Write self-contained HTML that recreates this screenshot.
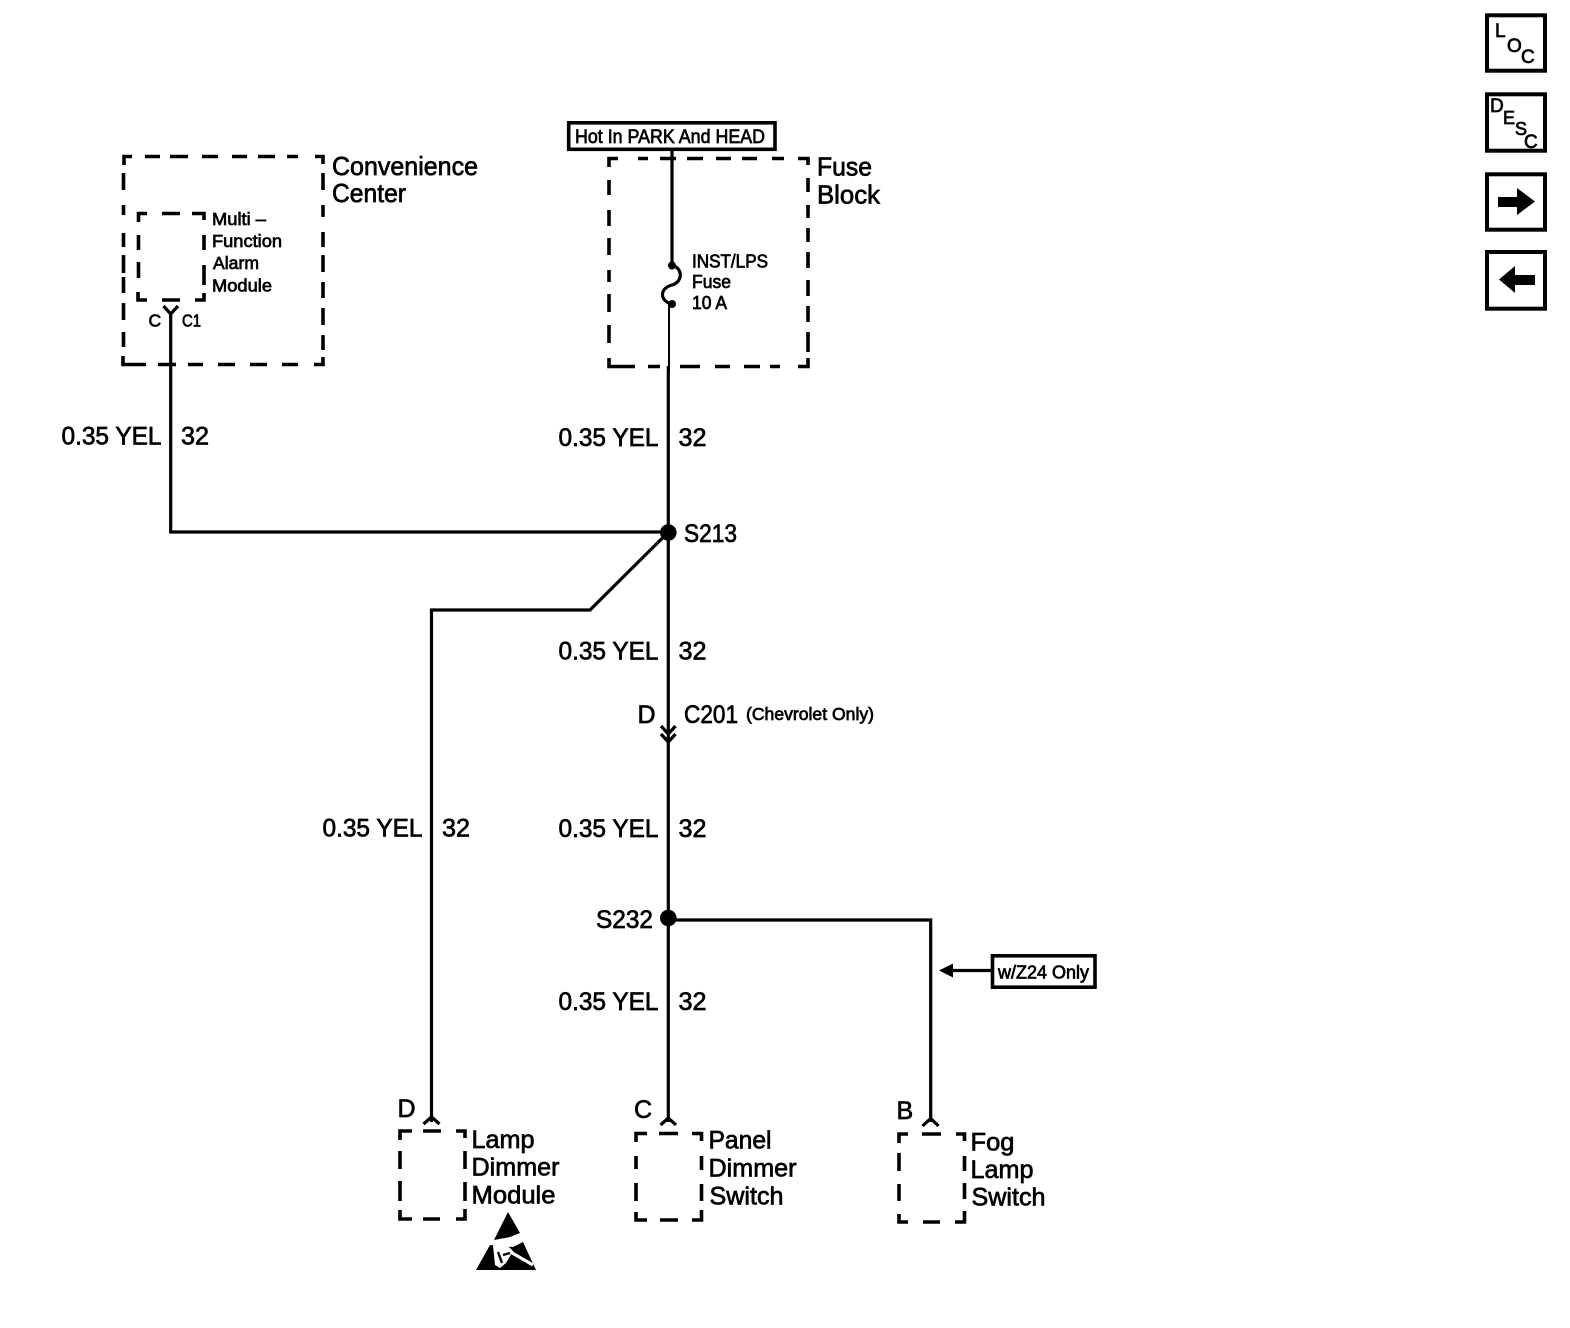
<!DOCTYPE html>
<html><head><meta charset="utf-8"><style>
html,body{margin:0;padding:0;background:#fff}
svg{display:block}
text{font-family:"Liberation Sans",sans-serif;fill:#000;stroke:#000;stroke-width:.7px}
.d{fill:none;stroke:#000;stroke-width:3.6}
.w{fill:none;stroke:#000;stroke-width:3.2}
.b{fill:none;stroke:#000;stroke-width:3.6}
</style></head><body>
<svg width="1570" height="1328" viewBox="0 0 1570 1328" xmlns="http://www.w3.org/2000/svg">
<!-- Convenience Center box -->
<path class="d" d="M124 165V156.500H132M145 156.500H160M170 156.500H188M202 156.500H218M232 156.500H247M258 156.500H275M287 156.500H298M315 156.500H323V164M323 173V190M323 205V217M323 232V247M323 255V272M323 282V298M323 308V325M323 335V350M323 357V364.500H314M298 364.500H282M267 364.500H250M235 364.500H218M203 364.500H188M176 364.500H158M146 364.500H132H123V356M123.500 347V332M123.500 320V303M123.500 293V277M123.500 273V255M123.500 247V233M123.500 215V205M123.500 190V173"/>
<!-- Inner module box -->
<path class="d" d="M138.500 222V213.500H147M162 213.500H180M192 213.500H204V220M204 235V250M204 265V285M204 293V300H195M180 300H162M147 300H138V292M138.500 278V262M138.500 250V235"/>
<text x="332" y="175" font-size="26" textLength="146" lengthAdjust="spacingAndGlyphs">Convenience</text>
<text x="332" y="202" font-size="26" textLength="74" lengthAdjust="spacingAndGlyphs">Center</text>
<text x="212" y="225" font-size="17.5" textLength="54" lengthAdjust="spacingAndGlyphs">Multi –</text>
<text x="212" y="247" font-size="17.5" textLength="70" lengthAdjust="spacingAndGlyphs">Function</text>
<text x="213" y="269" font-size="17.5" textLength="46" lengthAdjust="spacingAndGlyphs">Alarm</text>
<text x="212" y="291.500" font-size="17.5" textLength="60" lengthAdjust="spacingAndGlyphs">Module</text>
<text x="148.500" y="326.500" font-size="17.5">C</text>
<text x="182" y="326.500" font-size="17.5" textLength="19" lengthAdjust="spacingAndGlyphs">C1</text>
<path class="w" d="M163.500 306L170.700 314L178 306M170.700 314V532H668"/>
<text x="61.500" y="444.500" font-size="25" textLength="100" lengthAdjust="spacingAndGlyphs">0.35 YEL</text>
<text x="181" y="444.500" font-size="25" textLength="28" lengthAdjust="spacingAndGlyphs">32</text>

<!-- Hot in box -->
<rect x="568.700" y="122.800" width="206.300" height="26.500" class="b"/>
<text x="575" y="143" font-size="19.500" textLength="190" lengthAdjust="spacingAndGlyphs">Hot In PARK And HEAD</text>
<!-- Fuse block -->
<path class="d" d="M609 167V158.500H618M638 158.500H648M660 158.500H676M687 158.500H703M716 158.500H731M742 158.500H757M772 158.500H784M798 158.500H808V165M808 178V192M808 205V218M808 228V242M808 252V268M808 280V296M808 306V322M808 332V352M808 358V366.500H798M780 366.500H770M760 366.500H744M730 366.500H715M700 366.500H680M660 366.500H648M635 366.500H615H609V358M609 343V325M609 312V294M609 282V270M609 255V238M609 226V210M609 195V180"/>
<path class="w" d="M672 150V265"/>
<path class="w" d="M672 265C683 268 683 282 672 285C660 288 659 300 671 304"/>
<circle cx="672" cy="265.500" r="4"/>
<circle cx="672" cy="304" r="4"/>
<path fill="none" stroke="#000" stroke-width="2" d="M669 303V372"/>
<text x="692" y="267.500" font-size="18" textLength="76" lengthAdjust="spacingAndGlyphs">INST/LPS</text>
<text x="692" y="288" font-size="18" textLength="39" lengthAdjust="spacingAndGlyphs">Fuse</text>
<text x="692" y="309" font-size="18" textLength="35" lengthAdjust="spacingAndGlyphs">10 A</text>
<text x="817" y="175.500" font-size="26" textLength="55" lengthAdjust="spacingAndGlyphs">Fuse</text>
<text x="817" y="203.500" font-size="26" textLength="63" lengthAdjust="spacingAndGlyphs">Block</text>

<!-- Main vertical -->
<path class="w" d="M668.300 366V740M661 726L668.300 734L675.500 726M661 734L668.300 742L675.500 734M668.300 742V1122"/>
<text x="558.500" y="446" font-size="25" textLength="100" lengthAdjust="spacingAndGlyphs">0.35 YEL</text>
<text x="678.500" y="446" font-size="25" textLength="28" lengthAdjust="spacingAndGlyphs">32</text>
<circle cx="668.300" cy="532.500" r="8.300"/>
<text x="684" y="542" font-size="25" textLength="53" lengthAdjust="spacingAndGlyphs">S213</text>
<path class="w" d="M668 532.500L590 610H431.500V1122"/>
<text x="558.500" y="659.500" font-size="25" textLength="100" lengthAdjust="spacingAndGlyphs">0.35 YEL</text>
<text x="678.500" y="659.500" font-size="25" textLength="28" lengthAdjust="spacingAndGlyphs">32</text>
<text x="637.500" y="723" font-size="25">D</text>
<text x="684" y="723" font-size="25" textLength="54" lengthAdjust="spacingAndGlyphs">C201</text>
<text x="746" y="720" font-size="17.500" textLength="128" lengthAdjust="spacingAndGlyphs">(Chevrolet Only)</text>
<text x="558.500" y="837" font-size="25" textLength="100" lengthAdjust="spacingAndGlyphs">0.35 YEL</text>
<text x="678.500" y="837" font-size="25" textLength="28" lengthAdjust="spacingAndGlyphs">32</text>
<text x="322.500" y="836.500" font-size="25" textLength="100" lengthAdjust="spacingAndGlyphs">0.35 YEL</text>
<text x="442" y="836.500" font-size="25" textLength="28" lengthAdjust="spacingAndGlyphs">32</text>
<circle cx="668.300" cy="918" r="8.300"/>
<text x="596" y="928" font-size="25" textLength="57" lengthAdjust="spacingAndGlyphs">S232</text>
<path class="w" d="M668 920H930.700V1122"/>
<text x="558.500" y="1010" font-size="25" textLength="100" lengthAdjust="spacingAndGlyphs">0.35 YEL</text>
<text x="678.500" y="1010" font-size="25" textLength="28" lengthAdjust="spacingAndGlyphs">32</text>
<!-- w/Z24 -->
<path d="M939 970.500L953 963.500V977.500Z"/>
<path class="w" d="M950 970.500H993"/>
<rect x="992.500" y="955.800" width="102.500" height="31.400" class="b"/>
<text x="998" y="978.500" font-size="18" textLength="91" lengthAdjust="spacingAndGlyphs">w/Z24 Only</text>

<!-- Connectors at bottom -->
<path class="w" d="M423.500 1124L431.500 1117L439.500 1124M660.500 1125L668.300 1118L676 1125M922.500 1126L930.700 1118.500L938.500 1126"/>
<!-- Lamp Dimmer box -->
<path class="d" d="M400 1140V1131H412M423 1131H441M456 1131H465V1138M465 1151V1169M465 1182V1201M465 1209V1219H456M440 1219H423M412 1219H400V1210M400 1201V1181M400 1169V1151"/>
<text x="397.500" y="1117" font-size="25">D</text>
<text x="471.500" y="1148" font-size="25" textLength="63" lengthAdjust="spacingAndGlyphs">Lamp</text>
<text x="471.500" y="1175.500" font-size="25" textLength="88" lengthAdjust="spacingAndGlyphs">Dimmer</text>
<text x="471.500" y="1203.500" font-size="25" textLength="84" lengthAdjust="spacingAndGlyphs">Module</text>
<!-- ESD symbol -->
<path d="M508 1212L520 1233L510 1237L494 1240ZM490 1245L476 1270H536L523 1242L513 1247Z"/>
<path fill="#fff" d="M493 1245L505 1243L513 1251L506 1263L500 1268L495 1265Z"/>
<path fill="none" stroke="#fff" stroke-width="3.200" d="M507 1250L533 1265"/>
<path fill="none" stroke="#000" stroke-width="2.400" d="M498 1252L502 1263M503 1255L510 1253"/>
<!-- Panel Dimmer box -->
<path class="d" d="M636 1142V1133.500H647M659 1133.500H678M692 1133.500H701.500V1141M701.500 1156V1170M701.500 1184V1201M701.500 1210V1220H692M678 1220H660M647 1220H636V1212M636 1201V1183M636 1169V1156"/>
<text x="634" y="1118" font-size="25">C</text>
<text x="708.500" y="1148.500" font-size="25" textLength="63" lengthAdjust="spacingAndGlyphs">Panel</text>
<text x="708.500" y="1176.500" font-size="25" textLength="88" lengthAdjust="spacingAndGlyphs">Dimmer</text>
<text x="709.500" y="1204.500" font-size="25" textLength="74" lengthAdjust="spacingAndGlyphs">Switch</text>
<!-- Fog Lamp box -->
<path class="d" d="M899 1143V1134H908M922 1134H941M956 1134H964.500V1141M964.500 1156V1171M964.500 1183V1199M964.500 1211V1222H955M940 1222H923M908 1222H899V1214M899 1201V1184M899 1171V1153"/>
<text x="896.500" y="1119" font-size="25">B</text>
<text x="970.500" y="1150.500" font-size="25" textLength="44" lengthAdjust="spacingAndGlyphs">Fog</text>
<text x="970.500" y="1178" font-size="25" textLength="63" lengthAdjust="spacingAndGlyphs">Lamp</text>
<text x="971.500" y="1205.500" font-size="25" textLength="74" lengthAdjust="spacingAndGlyphs">Switch</text>

<!-- Side buttons -->
<g fill="none" stroke="#000" stroke-width="4">
<rect x="1487" y="15.300" width="58" height="55.400"/>
<rect x="1487" y="94.300" width="58" height="56.400"/>
<rect x="1487" y="174.300" width="58" height="55.400"/>
<rect x="1487" y="252" width="58" height="56.700"/>
</g>
<text x="1495" y="37" font-size="19">L</text>
<text x="1507" y="52" font-size="19">O</text>
<text x="1521" y="63" font-size="19">C</text>
<text x="1490" y="112" font-size="19">D</text>
<text x="1503" y="124" font-size="18">E</text>
<text x="1515" y="135" font-size="18">S</text>
<text x="1524" y="148" font-size="19">C</text>
<path d="M1498 197H1517V188L1535 201.500L1517 215V207H1498Z"/>
<path d="M1535 275H1515V266L1499 279.500L1515 293V285H1535Z"/>
</svg>
</body></html>
